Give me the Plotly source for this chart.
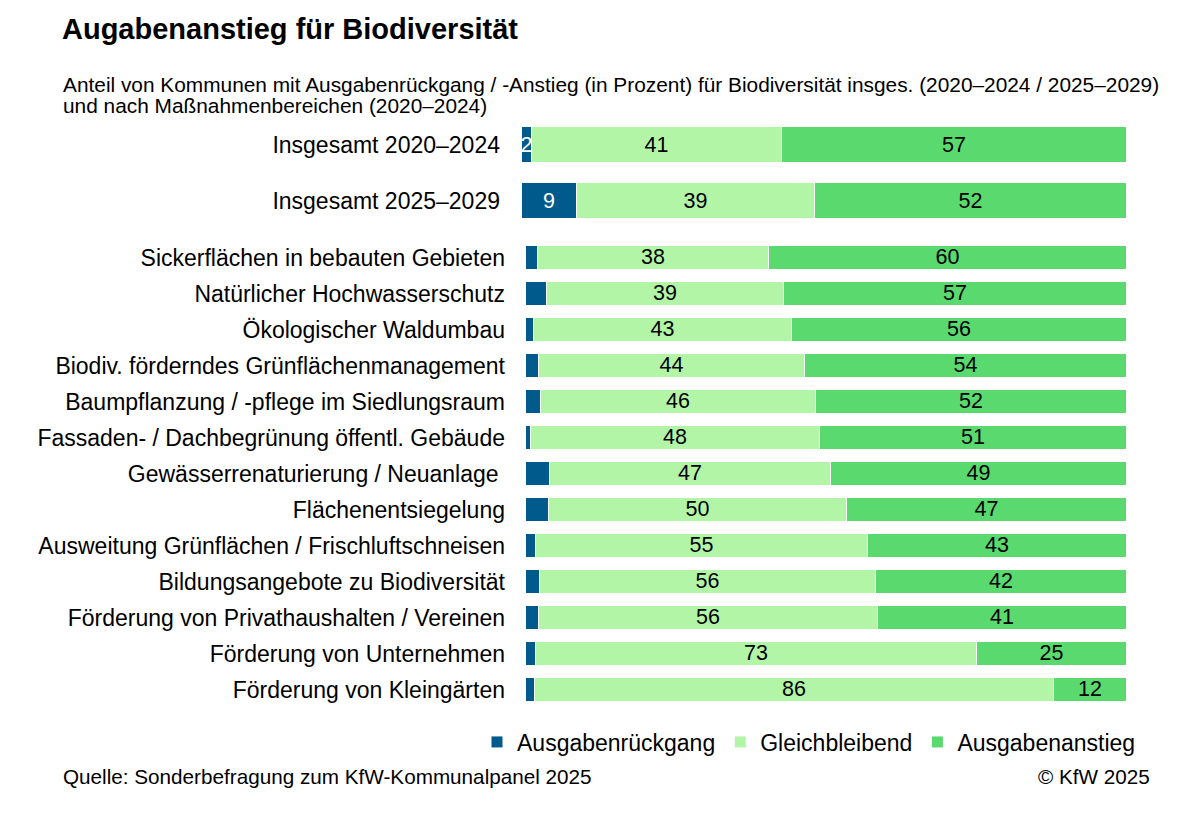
import plotly.graph_objects as go

# ---------------- data ----------------
title_text = "Augabenanstieg für Biodiversität"
subtitle_line1 = ("Anteil von Kommunen mit Ausgabenrückgang / -Anstieg (in Prozent) für Biodiversität insges. "
                  "(2020–2024 / 2025–2029)")
subtitle_line2 = "und nach Maßnahmenbereichen (2020–2024)"
source_text = "Quelle: Sonderbefragung zum KfW-Kommunalpanel 2025"
copyright_text = "© KfW 2025"

series_names = ["Ausgabenrückgang", "Gleichbleibend", "Ausgabenanstieg"]

total_categories = ["Insgesamt 2020–2024", "Insgesamt 2025–2029"]
total_decrease = [1.7, 9.1]
total_same = [41.3, 39.3]
total_increase = [57.0, 51.6]

area_categories = [
    "Sickerflächen in bebauten Gebieten",
    "Natürlicher Hochwasserschutz",
    "Ökologischer Waldumbau",
    "Biodiv. förderndes Grünflächenmanagement",
    "Baumpflanzung / -pflege im Siedlungsraum",
    "Fassaden- / Dachbegrünung öffentl. Gebäude",
    "Gewässerrenaturierung / Neuanlage\u00a0",
    "Flächenentsiegelung",
    "Ausweitung Grünflächen / Frischluftschneisen",
    "Bildungsangebote zu Biodiversität",
    "Förderung von Privathaushalten / Vereinen",
    "Förderung von Unternehmen",
    "Förderung von Kleingärten",
]
area_decrease = [2.0, 3.5, 1.4, 2.2, 2.5, 0.8, 4.0, 3.8, 1.6, 2.4, 2.2, 1.6, 1.5]
area_same = [38.4, 39.4, 42.9, 44.2, 45.8, 48.1, 46.7, 49.6, 55.3, 55.8, 56.4, 73.4, 86.4]
area_increase = [59.6, 57.1, 55.7, 53.6, 51.7, 51.1, 49.3, 46.6, 43.1, 41.8, 41.4, 25.0, 12.1]

# ---------------- style ----------------
FONT = "Liberation Sans, Arial, sans-serif"
COLORS = ["#005a8c", "#b3f5a7", "#5ad96e"]
W, H = 1200, 822
OFF = 8  # page body margin of the html page
BAR_W = 0.64
LABEL_SIZE = 23
VALUE_SIZE = 21.5


def px_x(p):
    return (p - OFF) / W


def px_y(p):
    return 1 - (p - OFF) / H


fig = go.Figure()

groups = [
    (total_categories, [total_decrease, total_same, total_increase], "x", "y", False, True),
    (area_categories, [area_decrease, area_same, area_increase], "x2", "y2", True, False),
]

for cats, vals, xa, ya, show_leg, label_dec in groups:
    for i, (name, v) in enumerate(zip(series_names, vals)):
        if i == 0 and not label_dec:
            kw = dict(textposition="none")
        else:
            kw = dict(texttemplate="%{x:.0f}", textposition="inside", textangle=0,
                      insidetextanchor="middle", constraintext="none",
                      textfont=dict(color="white" if i == 0 else "black",
                                    size=VALUE_SIZE, family=FONT))
        fig.add_trace(go.Bar(
            y=cats, x=v, name=name, orientation="h",
            marker=dict(color=COLORS[i], line=dict(color="white", width=1)),
            width=BAR_W, xaxis=xa, yaxis=ya, showlegend=show_leg,
            hoverinfo="skip", **kw))

axis_common = dict(showgrid=False, zeroline=False, showline=False)
fig.update_layout(
    width=W, height=H, autosize=False,
    margin=dict(l=0, r=0, t=0, b=0),
    paper_bgcolor="white", plot_bgcolor="white",
    barmode="stack", bargap=0,
    font=dict(family=FONT, color="black", size=LABEL_SIZE),
    xaxis=dict(domain=[px_x(522), px_x(1127)], range=[0, 100], visible=False, anchor="y", **axis_common),
    yaxis=dict(domain=[px_y(229), px_y(117)], autorange="reversed", type="category",
               ticklabelstandoff=21, tickfont=dict(size=LABEL_SIZE, color="black"), anchor="x",
               **axis_common),
    xaxis2=dict(domain=[px_x(526), px_x(1127)], range=[0, 100], visible=False, anchor="y2", **axis_common),
    yaxis2=dict(domain=[px_y(707.5), px_y(239.5)], autorange="reversed", type="category",
                ticklabelstandoff=20, tickfont=dict(size=LABEL_SIZE, color="black"), anchor="x2",
                **axis_common),
    legend=dict(orientation="h", x=px_x(809), xanchor="center", y=px_y(742), yanchor="middle",
                font=dict(size=LABEL_SIZE, color="black"), traceorder="normal", itemclick=False),
    annotations=[
        dict(text="<b>" + title_text + "</b>", x=px_x(60), y=px_y(29), xref="paper", yref="paper",
             xanchor="left", yanchor="middle", showarrow=False, font=dict(size=29, color="black")),
        dict(text=subtitle_line1, x=px_x(61), y=px_y(84), xref="paper", yref="paper",
             xanchor="left", yanchor="middle", showarrow=False, font=dict(size=20.85, color="black")),
        dict(text=subtitle_line2, x=px_x(61), y=px_y(106), xref="paper", yref="paper",
             xanchor="left", yanchor="middle", showarrow=False, font=dict(size=20.85, color="black")),
        dict(text=source_text, x=px_x(61), y=px_y(776), xref="paper", yref="paper",
             xanchor="left", yanchor="middle", showarrow=False, font=dict(size=20.7, color="black")),
        dict(text=copyright_text, x=px_x(1152), y=px_y(776), xref="paper", yref="paper",
             xanchor="right", yanchor="middle", showarrow=False, font=dict(size=20.7, color="black")),
    ],
)

fig.write_html("out.html")
